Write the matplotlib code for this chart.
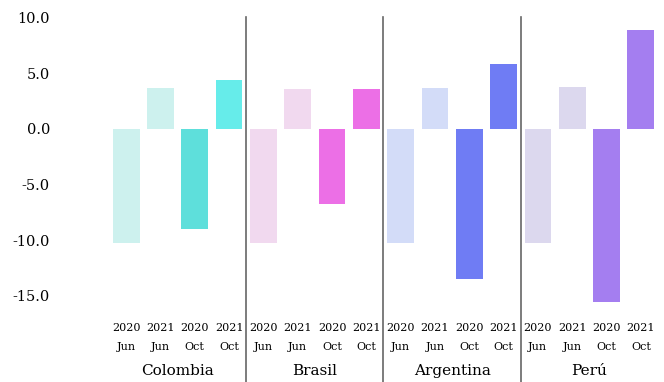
import matplotlib
matplotlib.use("Agg")
import matplotlib.pyplot as plt
import matplotlib.transforms as mtransforms

countries = ["Colombia", "Brasil", "Argentina", "Perú"]
years = ["2020", "2021", "2020", "2021"]
months = ["Jun", "Jun", "Oct", "Oct"]
colombia = [-10.2, 3.7, -9.0, 4.4]
brasil = [-10.2, 3.6, -6.7, 3.6]
argentina = [-10.2, 3.7, -13.5, 5.8]
peru = [-10.2, 3.8, -15.5, 8.9]
values = [colombia, brasil, argentina, peru]
colors = [
    ["#cdf1ee", "#cdf1ee", "#5edfdb", "#66ecea"],
    ["#f1d9ef", "#f1d9ef", "#ec6fe6", "#ec6fe6"],
    ["#d3dcf8", "#d3dcf8", "#6f7cf4", "#6f7cf4"],
    ["#dcd8ee", "#dcd8ee", "#a47ef0", "#a47ef0"],
]
yticks = [10.0, 5.0, 0.0, -5.0, -10.0, -15.0]

plt.rcParams['font.family'] = ['DejaVu Serif', 'Liberation Serif']
fig = plt.figure(figsize=(6.64, 3.82), dpi=100)
ax = fig.add_axes([109 / 664, 1 - 316 / 382, (658 - 109) / 664, (316 - 15) / 382])
ax.set_ylim(-16.8, 10.23)
n = len(years)
ax.set_xlim(-0.5, len(countries) * n - 0.5)

for ci, (vals, cols) in enumerate(zip(values, colors)):
    xs = [ci * n + i for i in range(n)]
    ax.bar(xs, vals, width=0.78, color=cols, edgecolor='none')

for s in ax.spines.values():
    s.set_visible(False)
ax.set_xticks([])
ax.set_yticks(yticks)
ax.set_yticklabels([f"{v:.1f}" for v in yticks], fontsize=10.5)
ax.tick_params(axis='y', length=0, pad=42.5)

trans = mtransforms.blended_transform_factory(ax.transData, fig.transFigure)
for ci in range(1, len(countries)):
    xb = ci * n - 0.5
    ax.plot([xb, xb], [1 - 17 / 382, 0], transform=trans, color='#666666',
            lw=1.2, clip_on=False)

for ci, c in enumerate(countries):
    for i in range(n):
        x = ci * n + i
        ax.text(x, 1 - 328 / 382, years[i], transform=trans, ha='center',
                va='center', fontsize=8)
        ax.text(x, 1 - 347 / 382, months[i], transform=trans, ha='center',
                va='center', fontsize=8)
    ax.text(ci * n + (n - 1) / 2, 1 - 371 / 382, c, transform=trans,
            ha='center', va='center', fontsize=11)

fig.savefig("out.png", dpi=100)
